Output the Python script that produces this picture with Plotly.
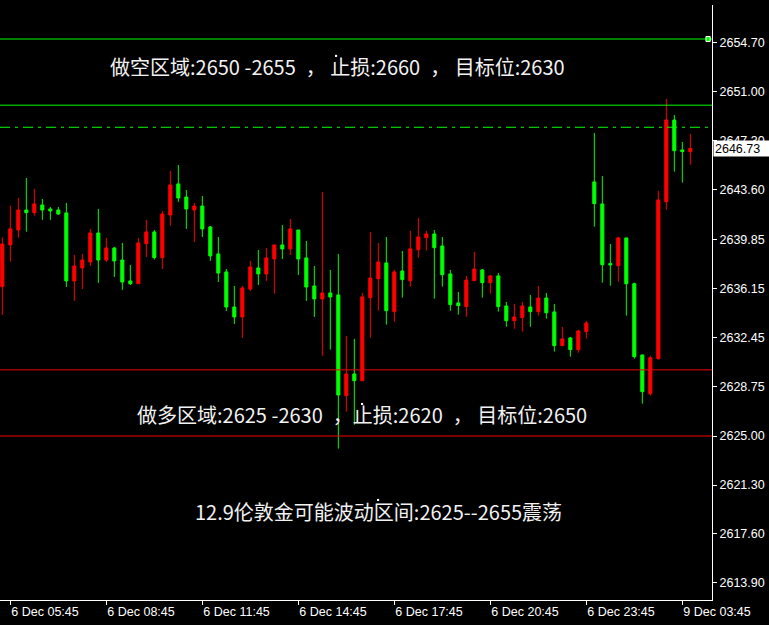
import pandas as pd
import plotly.graph_objects as go

# XAUUSD M15, sexta 6 Dec e abertura de segunda 9 Dec
sessao_sexta = pd.date_range("2024-12-06 05:30", "2024-12-06 23:45", freq="15min")
sessao_segunda = pd.date_range("2024-12-09 01:00", "2024-12-09 04:00", freq="15min")
tempos = [t.strftime("%Y-%m-%d %H:%M") for t in list(sessao_sexta) + list(sessao_segunda)]

abertura = [
    2636.29, 2639.44, 2640.57, 2642.08, 2641.88, 2642.46, 2642.16, 2642.08, 2641.86, 2636.72,
    2637.70, 2638.15, 2640.34, 2638.30, 2639.21, 2638.30, 2636.72, 2636.51, 2639.54, 2640.42,
    2638.48, 2641.70, 2644.05, 2643.06, 2642.08, 2642.38, 2640.80, 2638.76, 2637.40, 2634.75,
    2634.00, 2636.11, 2637.70, 2637.25, 2638.38, 2639.44, 2639.14, 2640.57, 2638.46, 2636.34,
    2635.36, 2635.81, 2635.66, 2628.05, 2629.69, 2629.18, 2635.46, 2636.89, 2638.08, 2634.40,
    2637.47, 2636.74, 2639.08, 2639.99, 2640.27, 2639.36, 2637.25, 2635.06, 2634.78, 2636.74,
    2637.55, 2636.59, 2637.10, 2634.83, 2633.72, 2633.95, 2634.75, 2634.40, 2635.43, 2634.38,
    2631.83, 2632.41, 2631.53, 2632.89, 2644.20, 2642.54, 2638.03, 2637.87, 2639.97, 2636.51,
    2631.13, 2628.20, 2630.85, 2642.71, 2648.88, 2646.62, 2646.49,
]
maxima = [
    2640.02, 2642.41, 2642.99, 2644.50, 2643.67, 2642.91, 2642.31, 2642.31, 2642.61, 2638.68,
    2638.76, 2640.65, 2642.16, 2639.97, 2639.29, 2639.59, 2637.93, 2639.97, 2641.33, 2640.57,
    2642.01, 2645.03, 2645.48, 2643.59, 2642.61, 2643.14, 2640.87, 2640.04, 2637.62, 2636.34,
    2636.34, 2638.23, 2639.06, 2639.21, 2639.44, 2640.95, 2641.40, 2640.57, 2639.74, 2637.85,
    2643.44, 2637.55, 2638.76, 2632.56, 2632.34, 2635.81, 2640.42, 2639.59, 2640.04, 2637.55,
    2638.98, 2640.50, 2641.48, 2640.50, 2640.57, 2640.04, 2637.55, 2635.89, 2637.10, 2638.91,
    2637.62, 2637.17, 2637.32, 2635.13, 2634.98, 2635.13, 2635.66, 2636.34, 2635.81, 2634.98,
    2633.24, 2632.49, 2633.02, 2633.70, 2647.90, 2644.65, 2639.51, 2640.04, 2639.97, 2636.59,
    2631.13, 2631.07, 2643.52, 2650.47, 2649.26, 2647.22, 2647.83,
]
minimas = [
    2634.15, 2638.18, 2639.99, 2640.44, 2641.65, 2641.33, 2641.33, 2641.70, 2636.26, 2635.21,
    2636.11, 2637.85, 2636.57, 2638.15, 2637.02, 2636.04, 2636.41, 2636.51, 2638.53, 2638.33,
    2637.62, 2640.90, 2642.69, 2640.65, 2639.66, 2640.04, 2638.23, 2636.64, 2634.45, 2633.47,
    2632.41, 2635.96, 2636.41, 2636.72, 2635.76, 2638.38, 2638.68, 2637.17, 2635.21, 2634.00,
    2631.07, 2631.53, 2624.05, 2626.84, 2625.86, 2629.18, 2632.43, 2634.47, 2633.42, 2633.64,
    2635.46, 2636.29, 2638.48, 2639.01, 2635.38, 2636.29, 2634.47, 2634.17, 2634.02, 2636.74,
    2635.46, 2635.76, 2634.40, 2633.26, 2633.11, 2632.89, 2633.26, 2634.10, 2633.87, 2631.38,
    2631.83, 2631.00, 2631.30, 2632.36, 2640.82, 2636.59, 2636.36, 2636.67, 2634.10, 2630.85,
    2627.45, 2628.05, 2630.77, 2642.11, 2644.98, 2644.15, 2645.51,
]
fechamento = [
    2639.51, 2640.65, 2642.08, 2641.88, 2642.54, 2642.08, 2642.01, 2641.78, 2636.72, 2637.85,
    2638.30, 2640.34, 2638.30, 2639.21, 2638.23, 2636.64, 2636.51, 2639.59, 2640.42, 2638.48,
    2641.78, 2643.97, 2642.99, 2642.16, 2642.38, 2640.65, 2638.61, 2637.32, 2634.75, 2634.00,
    2636.19, 2637.77, 2637.25, 2638.46, 2639.44, 2639.14, 2640.65, 2638.38, 2636.26, 2635.36,
    2635.81, 2635.51, 2628.10, 2629.69, 2629.18, 2635.51, 2636.94, 2638.15, 2634.47, 2637.40,
    2636.82, 2639.14, 2640.04, 2640.27, 2639.23, 2637.19, 2634.93, 2634.85, 2636.79, 2637.62,
    2636.59, 2637.10, 2634.78, 2633.72, 2634.00, 2634.83, 2634.40, 2635.43, 2634.32, 2631.83,
    2632.34, 2631.53, 2632.94, 2633.54, 2642.56, 2637.95, 2637.93, 2639.97, 2636.51, 2631.00,
    2628.35, 2630.92, 2642.84, 2648.88, 2646.56, 2646.49, 2646.73,
]

# niveis desenhados no grafico
zona_venda = [2650, 2655]
zona_compra = [2625, 2630]
nivel_tracejado = 2648.33

eixo_y_ticks = [2613.90, 2617.60, 2621.30, 2625.00, 2628.75, 2632.45,
                2636.15, 2639.85, 2643.60, 2647.30, 2651.00, 2654.70]
eixo_x_ticks = ["2024-12-06 05:45", "2024-12-06 08:45", "2024-12-06 11:45", "2024-12-06 14:45",
                "2024-12-06 17:45", "2024-12-06 20:45", "2024-12-06 23:45", "2024-12-09 03:45"]
eixo_x_textos = ["6 Dec 05:45", "6 Dec 08:45", "6 Dec 11:45", "6 Dec 14:45",
                 "6 Dec 17:45", "6 Dec 20:45", "6 Dec 23:45", "9 Dec 03:45"]

textos = [
    "做空区域:2650 -2655\u2002， 止损:2660\u2002， 目标位:2630",
    "做多区域:2625 -2630\u2002，止损:2620\u2002， 目标位:2650",
    "12.9伦敦金可能波动区间:2625--2655震荡",
]

VERDE = "#00FF00"
VERMELHO = "#FF0000"

fig = go.Figure(go.Candlestick(
    x=tempos, open=abertura, high=maxima, low=minimas, close=fechamento,
    increasing=dict(line=dict(color=VERMELHO, width=1), fillcolor=VERMELHO),
    decreasing=dict(line=dict(color=VERDE, width=1), fillcolor=VERDE),
    whiskerwidth=0, showlegend=False, hoverinfo="skip",
))

# linhas horizontais
for nivel in zona_venda:
    fig.add_shape(type="line", xref="paper", x0=0, x1=1, yref="y", y0=nivel, y1=nivel,
                  line=dict(color=VERDE, width=1))
for nivel in zona_compra:
    fig.add_shape(type="line", xref="paper", x0=0, x1=1, yref="y", y0=nivel, y1=nivel,
                  line=dict(color="#F00000", width=1))
fig.add_shape(type="line", xref="paper", x0=0, x1=1, yref="y", y0=nivel_tracejado, y1=nivel_tracejado,
              line=dict(color=VERDE, width=1, dash="10px,5px,3px,5px"))
# marcador no fim da linha de 2655
fig.add_shape(type="rect", xref="paper", x0=0.9915, x1=0.9975, yref="y", ysizemode="pixel",
              yanchor=zona_venda[1], y0=-2.5, y1=2.5, line=dict(color="white", width=1), fillcolor=VERDE)

fonte_cjk = dict(family="Noto Sans CJK SC", size=20, color="#F2F2F2")
posicoes = [(0.4747, 0.8963), (0.509, 0.3118), (0.5316, 0.1487)]
for texto, (px_, py_) in zip(textos, posicoes):
    fig.add_annotation(text=texto, xref="paper", yref="paper", x=px_, y=py_,
                       xanchor="center", yanchor="middle", showarrow=False, font=fonte_cjk)

# pontos de ancoragem dos objetos de texto
for ax_, ay_ in [(0.4705, 0.9127), (0.5070, 0.3277), (0.5295, 0.1664)]:
    fig.add_shape(type="rect", xref="paper", yref="paper", x0=ax_, x1=ax_ + 0.003,
                  y0=ay_, y1=ay_ + 0.0035, line=dict(width=0), fillcolor="white")

# etiqueta do preco atual
fig.add_annotation(text=f"{fechamento[-1]:.2f}", xref="paper", yref="y", x=1, y=fechamento[-1],
                   xanchor="left", yanchor="middle", showarrow=False, bgcolor="white",
                   width=54, height=13, align="left", xshift=1,
                   font=dict(family="Liberation Sans", size=12.5, color="black"))

fig.update_layout(
    width=769, height=625,
    margin=dict(l=0, r=57, t=5, b=25),
    paper_bgcolor="black", plot_bgcolor="black",
    boxgap=0.45,
    font=dict(family="Liberation Sans", size=12.5, color="white"),
    xaxis=dict(
        type="category", range=[-0.29, 88.71], rangeslider=dict(visible=False),
        showgrid=False, zeroline=False, showline=True, linecolor="white", linewidth=1,
        ticks="outside", ticklen=4, tickcolor="white",
        tickvals=eixo_x_ticks, ticktext=eixo_x_textos, ticklabelposition="outside right",
        tickfont=dict(family="Liberation Sans", size=12.5, color="white"),
    ),
    yaxis=dict(
        side="right", range=[2612.61, 2657.57], showgrid=False, zeroline=False,
        showline=True, linecolor="white", linewidth=1,
        ticks="outside", ticklen=4, tickcolor="white",
        tickvals=eixo_y_ticks, ticktext=[f"{v:.2f}" for v in eixo_y_ticks],
        tickfont=dict(family="Liberation Sans", size=12.5, color="white"),
    ),
)

fig.write_html("out.html", config={"displayModeBar": False},
               post_script="document.body.style.margin='0';document.body.style.overflow='hidden';")
